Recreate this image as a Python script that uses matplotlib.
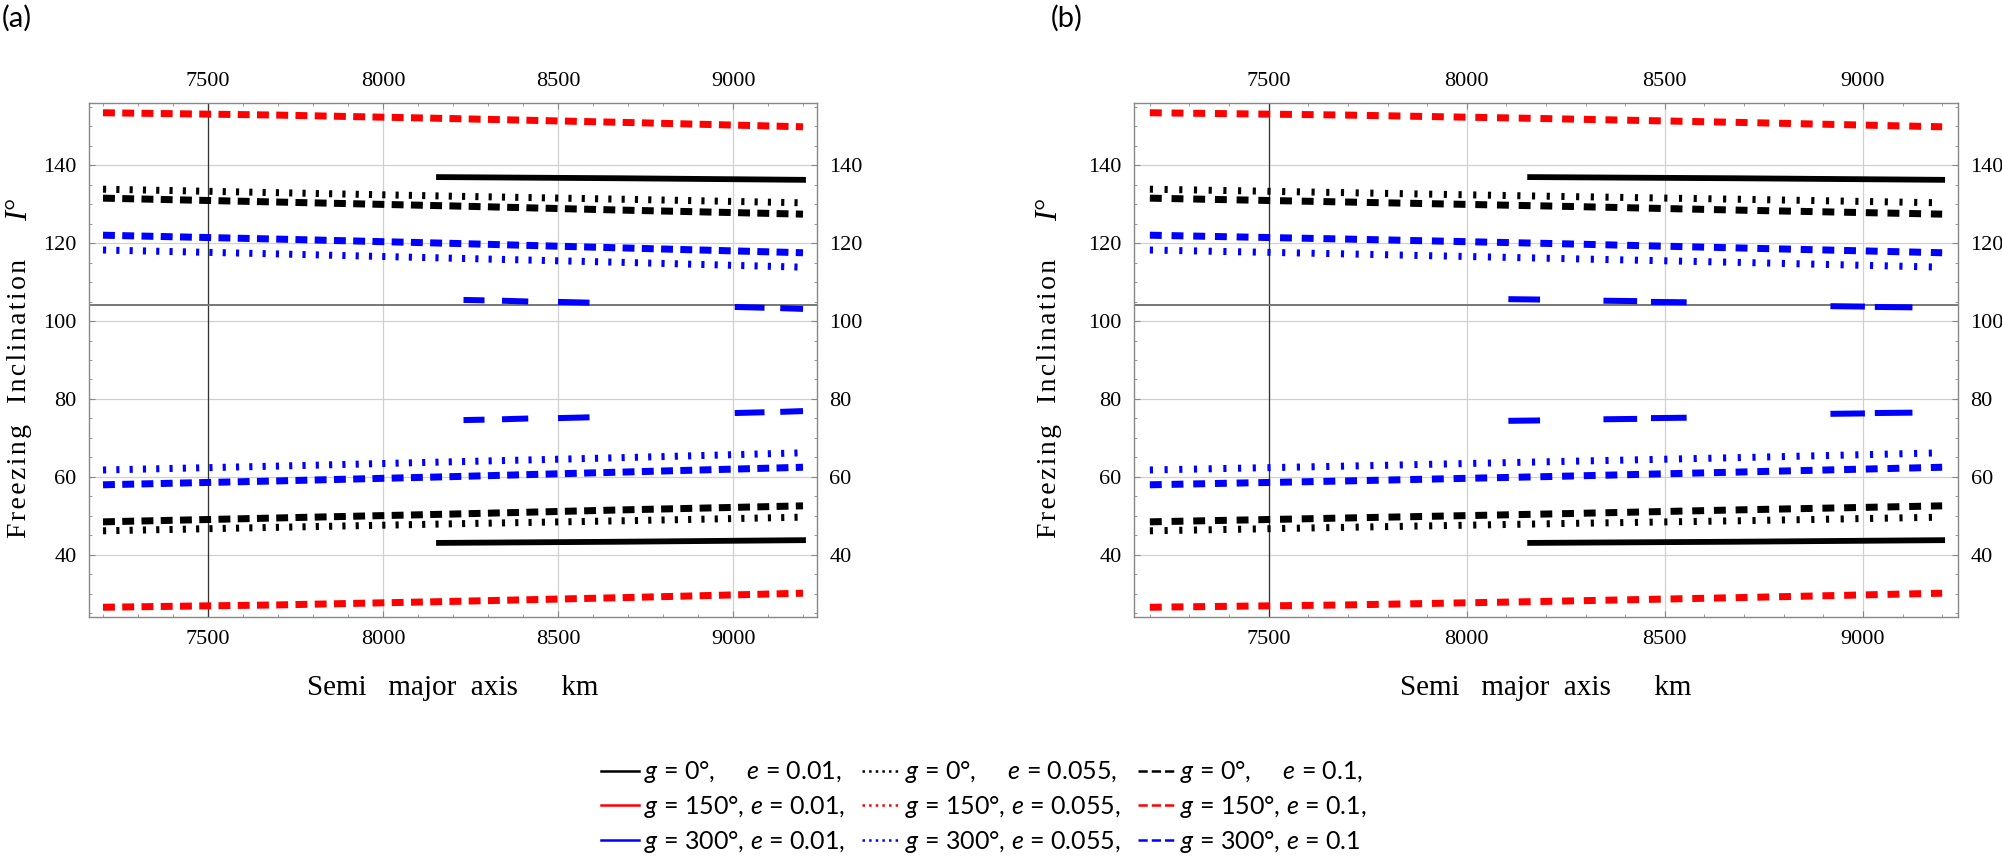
import numpy as np
import matplotlib
matplotlib.use("Agg")
import matplotlib.pyplot as plt
from matplotlib.lines import Line2D

plt.rcParams['font.family'] = ['Liberation Serif', 'DejaVu Serif']
plt.rcParams['mathtext.fontset'] = 'custom'
plt.rcParams['mathtext.it'] = 'Lato:italic'
plt.rcParams['mathtext.rm'] = 'Lato'

nan = np.nan

# semi major axis sample points (km)
a_grid = [7200, 7700, 8200, 8700, 9200]
a_solid = [8160, 8680, 9200]

# freezing inclination (deg), upper and lower branch
blk_solid_up = [136.9, 136.6, 136.2]
blk_solid_lo = [43.1, 43.4, 43.8]
blk_dot_up = [133.8, 132.9, 132.0, 131.2, 130.3]
blk_dot_lo = [46.2, 47.1, 48.0, 48.8, 49.7]
blk_dash_up = [131.5, 130.5, 129.5, 128.4, 127.4]
blk_dash_lo = [48.5, 49.5, 50.5, 51.6, 52.6]
red_dash_up = [153.4, 152.8, 151.9, 150.9, 149.8]
red_dash_lo = [26.6, 27.2, 28.1, 29.1, 30.2]
blu_dash_up = [122.0, 121.0, 119.9, 118.7, 117.5]
blu_dash_lo = [58.0, 59.0, 60.1, 61.3, 62.5]
blu_dot_up = [118.2, 117.2, 116.1, 115.0, 113.8]
blu_dot_lo = [61.8, 62.8, 63.9, 65.0, 66.2]

# g = 300, e = 0.01 only exists in short pieces (nan = gap)
blu_solid_x_a = [8230, 8290, nan, 8340, 8415, nan, 8500, 8590, nan, 9005, 9090, nan, 9135, 9200]
blu_solid_up_a = [105.4, 105.3, nan, 105.2, 105.0, nan, 104.9, 104.7, nan, 103.6, 103.4, nan, 103.3, 103.1]
blu_solid_lo_a = [74.6, 74.7, nan, 74.8, 75.0, nan, 75.1, 75.3, nan, 76.4, 76.6, nan, 76.7, 76.9]
blu_solid_x_b = [8105, 8185, nan, 8345, 8430, nan, 8465, 8555, nan, 8918, 9005, nan, 9030, 9125]
blu_solid_up_b = [105.6, 105.5, nan, 105.2, 105.1, nan, 104.9, 104.8, nan, 103.8, 103.7, nan, 103.6, 103.5]
blu_solid_lo_b = [74.4, 74.5, nan, 74.8, 74.9, nan, 75.1, 75.2, nan, 76.2, 76.3, nan, 76.4, 76.5]

legend_labels = [
    "$g$ = 0°,     $e$ = 0.01,", "$g$ = 0°,     $e$ = 0.055,", "$g$ = 0°,     $e$ = 0.1,",
    "$g$ = 150°, $e$ = 0.01,", "$g$ = 150°, $e$ = 0.055,", "$g$ = 150°, $e$ = 0.1,",
    "$g$ = 300°, $e$ = 0.01,", "$g$ = 300°, $e$ = 0.055,", "$g$ = 300°, $e$ = 0.1",
]

W, H = 2002, 864
fig = plt.figure(figsize=(W / 100, H / 100), dpi=100)

PX = 0.72  # points per pixel at dpi 100


def panel(rect, dash_off, dot_off, bx, bup, blo):
    ax = fig.add_axes(rect)
    lw = 7.0 * PX
    dash = (0, (1.7, dash_off))
    dot = (0, (0.45, dot_off))
    kw = dict(lw=lw, solid_capstyle='butt', dash_capstyle='butt')
    ax.plot(a_grid, red_dash_up, color='red', ls=dash, **kw)
    ax.plot(a_grid, red_dash_lo, color='red', ls=dash, **kw)
    ax.plot(a_grid, blk_dash_up, color='black', ls=dash, **kw)
    ax.plot(a_grid, blk_dash_lo, color='black', ls=dash, **kw)
    ax.plot(a_grid, blu_dash_up, color='blue', ls=dash, **kw)
    ax.plot(a_grid, blu_dash_lo, color='blue', ls=dash, **kw)
    ax.plot(a_grid, blk_dot_up, color='black', ls=dot, **kw)
    ax.plot(a_grid, blk_dot_lo, color='black', ls=dot, **kw)
    ax.plot(a_grid, blu_dot_up, color='blue', ls=dot, **kw)
    ax.plot(a_grid, blu_dot_lo, color='blue', ls=dot, **kw)
    ax.plot(a_solid, blk_solid_up, color='black', lw=5.8 * PX)
    ax.plot(a_solid, blk_solid_lo, color='black', lw=5.8 * PX)
    ax.plot(bx, bup, color='blue', lw=6.0 * PX, solid_capstyle='butt')
    ax.plot(bx, blo, color='blue', lw=6.0 * PX, solid_capstyle='butt')

    ax.axvline(7500, color='#333333', lw=0.9, zorder=1)
    ax.axhline(104, color='#777777', lw=1.4, zorder=1)

    ax.set_xlim(7160, 9240)
    ax.set_ylim(24.1, 155.9)
    ax.set_xticks([7500, 8000, 8500, 9000])
    ax.set_xticks(np.arange(7200, 9201, 100), minor=True)
    ax.set_yticks([40, 60, 80, 100, 120, 140])
    ax.set_yticks(np.arange(25, 156, 5), minor=True)
    ax.grid(True, which='major', color='#d0d0d0', lw=0.9, zorder=0)
    ax.set_axisbelow(True)
    ax.tick_params(which='both', direction='in', top=True, right=True,
                   labeltop=True, labelright=True, color='#888888',
                   labelsize=16, pad=9, labelfontfamily='Liberation Serif')
    ax.tick_params(which='major', length=4.5)
    ax.tick_params(which='minor', length=2.5)
    for s in ax.spines.values():
        s.set_color('#888888')
        s.set_linewidth(1.0)
    return ax


ax_a = panel([89 / W, 1 - 617 / H, 728 / W, 514 / H], 1.05, 1.45,
             blu_solid_x_a, blu_solid_up_a, blu_solid_lo_a)
ax_b = panel([1134 / W, 1 - 617 / H, 824 / W, 514 / H], 1.4, 1.65,
             blu_solid_x_b, blu_solid_up_b, blu_solid_lo_b)

hs = '\u200a'
ylabel = hs.join('Freezing') + '   ' + hs.join('Inclination')
for cx, ylab_x, tag_x, tag in [(453, 20, 2, '(a)'), (1546, 1050, 1051, '(b)')]:
    fig.text(cx / W, 1 - 688 / H, 'Semi   major  axis      km', ha='center', va='center',
             fontsize=21)
    fig.text(ylab_x / W, 1 - 398 / H, ylabel,
             rotation=90, ha='center', va='center', fontsize=20)
    fig.text(ylab_x / W, 1 - 210 / H, 'I°', rotation=90, ha='center', va='center',
             style='italic', fontsize=22)
    fig.text(tag_x / W, 1 - 18 / H, tag, ha='left', va='center', family='Lato', fontsize=21)

# legend (column-major: solid, dotted, dashed)
handles = []
labels = []
colors = ['black', 'red', 'blue']
styles = ['-', ':', '--']
for j, st in enumerate(styles):
    for i, c in enumerate(colors):
        handles.append(Line2D([], [], color=c, ls=st, lw=1.8))
        labels.append(legend_labels[i * 3 + j])
fig.legend(handles, labels, ncol=3, loc='center', bbox_to_anchor=(984 / W, 1 - 807 / H),
           frameon=False, prop={'family': 'Lato', 'size': 18}, handlelength=1.5,
           handletextpad=0.2, columnspacing=0.7, labelspacing=0.35)

fig.savefig('out.png', dpi=100)
